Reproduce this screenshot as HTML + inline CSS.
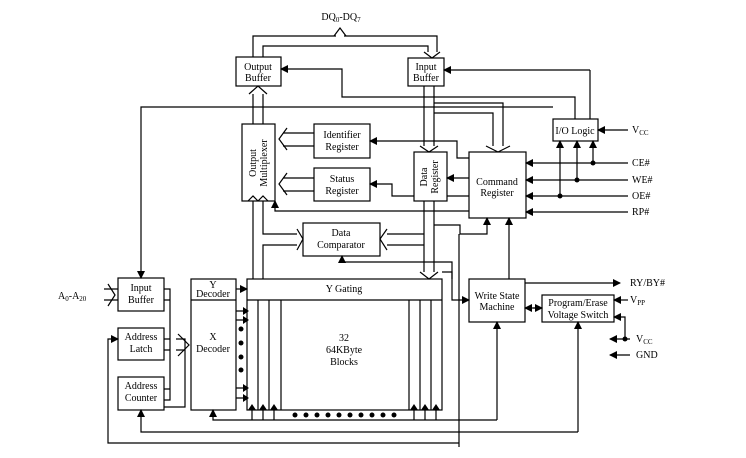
<!DOCTYPE html>
<html><head><meta charset="utf-8"><style>
html,body{margin:0;padding:0;background:#fff}
svg{display:block}
text{font-family:"Liberation Serif",serif;font-size:10px;fill:#000}
</style></head><body>
<svg width="746" height="458" viewBox="0 0 746 458" xmlns="http://www.w3.org/2000/svg">
<defs>
<marker id="a" markerWidth="8" markerHeight="8" refX="7" refY="4" orient="auto-start-reverse" markerUnits="userSpaceOnUse"><path d="M0,0 L8,4 L0,8z" fill="#000"/></marker>
</defs>
<g fill="none" stroke="#000" stroke-width="1.2">
<rect x="236" y="57" width="45" height="29"/>
<rect x="408" y="58" width="36" height="28"/>
<rect x="242" y="124" width="33" height="77"/>
<rect x="314" y="124" width="56" height="34"/>
<rect x="314" y="168" width="56" height="33"/>
<rect x="414" y="152" width="33" height="49"/>
<rect x="303" y="223" width="77" height="33"/>
<rect x="553" y="119" width="45" height="22"/>
<rect x="469" y="152" width="57" height="66"/>
<rect x="469" y="279" width="56" height="43"/>
<rect x="542" y="295" width="72" height="27"/>
<rect x="118" y="278" width="46" height="33"/>
<rect x="118" y="328" width="46" height="32"/>
<rect x="118" y="377" width="46" height="33"/>
<rect x="191" y="279" width="45" height="131"/>
<line x1="191" y1="300" x2="236" y2="300"/>
<rect x="247" y="279" width="195" height="131"/>
<line x1="247" y1="300" x2="442" y2="300"/>
<line x1="258" y1="300" x2="258" y2="410"/><line x1="269" y1="300" x2="269" y2="410"/><line x1="281" y1="300" x2="281" y2="410"/>
<line x1="409" y1="300" x2="409" y2="410"/><line x1="420" y1="300" x2="420" y2="410"/><line x1="431" y1="300" x2="431" y2="410"/>
<path d="M253,57 V36 H336 M344,36 H437 V52"/>
<path d="M263,57 V46 H428 V52"/>
<path d="M334,36 L340,28 L346,36"/>
<path d="M424,52 L432,58 L440,52"/>
<path d="M253,124 V94 M263,124 V94"/><path d="M249,94 L258,86 L267,94"/>
<path d="M424,86 V146 M434,86 V146"/><path d="M420,146 L429,152 L438,146"/>
<path d="M424,201 V272 M434,201 V272"/><path d="M420,272 L429,279 L438,272"/>
<path d="M434,103 H503 V146 M434,113 H493 V146"/><path d="M486,146 L498,152 L510,146"/>
<path d="M314,133 H283 M314,146 H283"/><path d="M287,128 L279,139 L287,150"/>
<path d="M314,178 H283 M314,191 H283"/><path d="M287,173 L279,184 L287,195"/>
<path d="M263,201 V234 H297 M253,201 V279 M263,279 V245 H297"/><path d="M297,229 L303,239 L297,250"/>
<path d="M424,234 H387 M424,245 H387"/><path d="M387,229 L380,239 L387,250"/>
<path d="M248,201 L253,196 L258,201 M258,201 L263,196 L268,201"/>
<path d="M342,256 V262 H452 V279" marker-start="url(#a)"/>
<path d="M141,278 V107 H553" marker-start="url(#a)"/>
<path d="M281,69 H342 V97 H575 V119" marker-start="url(#a)"/>
<path d="M590,119 V70"/>
<path d="M444,70 H590" marker-start="url(#a)"/>
<path d="M370,141 H457 V158 H469" marker-start="url(#a)"/>
<path d="M370,184 H392 V196 H414" marker-start="url(#a)"/>
<path d="M469,178 H447" marker-end="url(#a)"/>
<path d="M275,201 V211 H469" marker-start="url(#a)"/>
<path d="M447,196 H469"/>
<path d="M434,225 H460 V234 H487 V218" marker-end="url(#a)"/>
<path d="M509,279 V218" marker-end="url(#a)"/>
<path d="M442,272 H452 V300 H469" marker-end="url(#a)"/>
<path d="M459,234 V447"/>
<path d="M628,130 H598" marker-end="url(#a)"/>
<path d="M628,163 H526" marker-end="url(#a)"/>
<path d="M628,180 H526" marker-end="url(#a)"/>
<path d="M628,196 H526" marker-end="url(#a)"/>
<path d="M628,212 H526" marker-end="url(#a)"/>
<path d="M593,163 V141" marker-end="url(#a)"/>
<path d="M577,180 V141" marker-end="url(#a)"/>
<path d="M560,196 V141" marker-end="url(#a)"/>
<path d="M525,283 H620" marker-end="url(#a)"/>
<path d="M628,300 H614" marker-end="url(#a)"/>
<path d="M625,339 V317 H614" marker-end="url(#a)"/>
<path d="M630,339 H610" marker-end="url(#a)"/>
<path d="M630,355 H610" marker-end="url(#a)"/>
<path d="M533,308 H542" marker-end="url(#a)"/>
<path d="M535,308 H525" marker-end="url(#a)"/>
<path d="M497,420 V322" marker-end="url(#a)"/>
<path d="M578,432 V322" marker-end="url(#a)"/>
<path d="M104,289 H118 M104,300 H118"/><path d="M108,284 L115,295 L108,306"/>
<path d="M164,289 H170 V400 H164 M164,300 H170 M164,339 H170 M164,350 H170 M164,389 H170"/>
<path d="M176,339 H185 V407 H164 M176,350 H185"/><path d="M178,334 L189,345 L178,356"/>
<path d="M236,289 H247" marker-end="url(#a)"/>
<path d="M236,311 H247 M236,320 H247 M236,388 H247 M236,398 H247"/>
<path d="M213,410 V420 H497" marker-start="url(#a)"/>
<path d="M578,432 H141 V410" marker-end="url(#a)"/>
<path d="M459,443 H108 V339 H118" marker-end="url(#a)"/>
<path d="M252,420 V410 M263,420 V410 M274,420 V410 M414,420 V410 M425,420 V410 M436,420 V410"/>
</g>
<g fill="#000">
<circle cx="593" cy="163" r="2.5"/><circle cx="577" cy="180" r="2.5"/><circle cx="560" cy="196" r="2.5"/><circle cx="625" cy="339" r="2.5"/>
<circle cx="241" cy="329" r="2.5"/><circle cx="241" cy="343" r="2.5"/><circle cx="241" cy="357" r="2.5"/><circle cx="241" cy="370" r="2.5"/>
<path d="M243,307 l6,4 l-6,4z M243,316 l6,4 l-6,4z M243,384 l6,4 l-6,4z M243,394 l6,4 l-6,4z"/>
<path d="M248,410 l4,-6 l4,6z M259,410 l4,-6 l4,6z M270,410 l4,-6 l4,6z M410,410 l4,-6 l4,6z M421,410 l4,-6 l4,6z M432,410 l4,-6 l4,6z"/>
<circle cx="295" cy="415" r="2.5"/><circle cx="306" cy="415" r="2.5"/><circle cx="317" cy="415" r="2.5"/><circle cx="328" cy="415" r="2.5"/><circle cx="339" cy="415" r="2.5"/><circle cx="350" cy="415" r="2.5"/><circle cx="361" cy="415" r="2.5"/><circle cx="372" cy="415" r="2.5"/><circle cx="383" cy="415" r="2.5"/><circle cx="394" cy="415" r="2.5"/>
</g>
<g text-anchor="middle">
<text x="341" y="20">DQ<tspan font-size="7" dy="2">0</tspan><tspan dy="-2">-DQ</tspan><tspan font-size="7" dy="2">7</tspan></text>
<text x="258" y="70">Output</text><text x="258" y="81">Buffer</text>
<text x="426" y="70">Input</text><text x="426" y="81">Buffer</text>
<text x="342" y="138">Identifier</text><text x="342" y="150">Register</text>
<text x="342" y="182">Status</text><text x="342" y="194">Register</text>
<text x="341" y="236">Data</text><text x="341" y="248">Comparator</text>
<text x="575" y="134">I/O Logic</text>
<text x="497" y="185">Command</text><text x="497" y="196">Register</text>
<text x="497" y="299">Write State</text><text x="497" y="310">Machine</text>
<text x="578" y="306">Program/Erase</text><text x="578" y="318">Voltage Switch</text>
<text x="141" y="291">Input</text><text x="141" y="303">Buffer</text>
<text x="141" y="340">Address</text><text x="141" y="352">Latch</text>
<text x="141" y="389">Address</text><text x="141" y="401">Counter</text>
<text x="213" y="288">Y</text><text x="213" y="297">Decoder</text>
<text x="213" y="340">X</text><text x="213" y="352">Decoder</text>
<text x="344" y="292">Y Gating</text>
<text x="344" y="341">32</text><text x="344" y="353">64KByte</text><text x="344" y="365">Blocks</text>
<text transform="translate(256,163) rotate(-90)">Output</text>
<text transform="translate(267,163) rotate(-90)">Multiplexer</text>
<text transform="translate(427,177) rotate(-90)">Data</text>
<text transform="translate(438,177) rotate(-90)">Register</text>
</g>
<g>
<text x="632" y="133">V<tspan font-size="7" dy="2">CC</tspan></text>
<text x="632" y="166">CE#</text><text x="632" y="183">WE#</text><text x="632" y="199">OE#</text><text x="632" y="215">RP#</text>
<text x="630" y="286">RY/BY#</text>
<text x="630" y="303">V<tspan font-size="7" dy="2">PP</tspan></text>
<text x="636" y="342">V<tspan font-size="7" dy="2">CC</tspan></text>
<text x="636" y="358">GND</text>
<text x="58" y="299">A<tspan font-size="7" dy="2">0</tspan><tspan dy="-2">-A</tspan><tspan font-size="7" dy="2">20</tspan></text>
</g>
</svg>
</body></html>
